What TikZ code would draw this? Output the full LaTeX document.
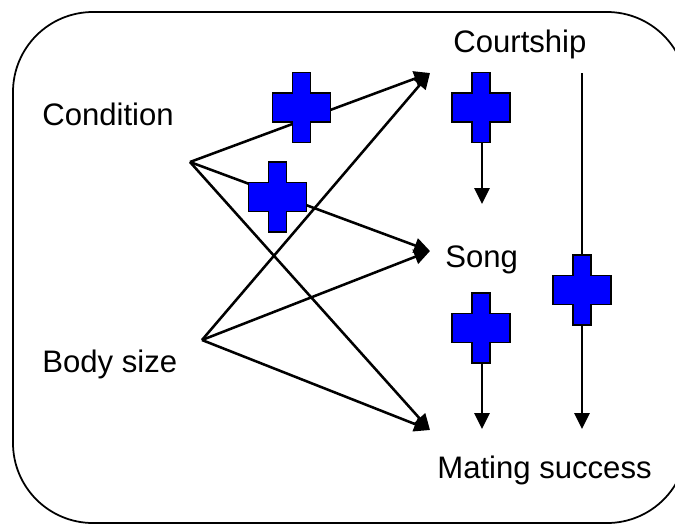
\documentclass[tikz,border=0pt]{standalone}
\usepackage{fontspec}
\setmainfont{Liberation Sans}
\usetikzlibrary{arrows.meta}
\tikzstyle{factor}=[inner sep=0pt, anchor=base west, font=\fontsize{17.7pt}{21pt}\selectfont]
\tikzstyle{line} = [draw, line width=1.45pt, color=black, -{Triangle[length=9pt, width=8.5pt]}]
\tikzstyle{frame}=[draw, line width=1pt, rounded corners=1.6cm]
\tikzset{posmark/.pic={
  \path [draw=black, line width=1.1pt, fill=blue]
    (-9,-35) -- (9,-35) -- (9,-14.5) -- (29,-14.5) -- (29,14.5) -- (9,14.5)
    -- (9,35) -- (-9,35) -- (-9,14.5) -- (-29,14.5) -- (-29,-14.5) -- (-9,-14.5) -- cycle;
}}

\begin{document}
\begin{tikzpicture}[x=0.02cm,y=-0.02cm]
  \useasboundingbox (0,0) rectangle (675,525);
  \clip (0,0) rectangle (675,525);
  \path [frame] (13,12) rectangle (687,523);

  \path (42,125) node (cond) [factor] {Condition};
  \path (42,372) node (body) [factor] {Body size};
  \path (453,52) node (court) [factor] {Courtship};
  \path (445,267) node (song) [factor] {Song};
  \path (437,478) node (mating) [factor] {Mating success};

  \coordinate (condout) at (190,162);
  \coordinate (bodyout) at (202,340);
  \coordinate (courtin) at (430,73);
  \coordinate (songin) at (430,251);
  \coordinate (matin) at (430,430);
  \coordinate (courtdown) at (482,73);
  \coordinate (songtip) at (482,204);
  \coordinate (songdown) at (482,293);
  \coordinate (matdown) at (482,429);
  \coordinate (courtright) at (582,73);
  \coordinate (matright) at (582,429);

  \path [line] (condout) -- (courtin);
  \path [line] (condout) -- (songin);
  \path [line] (condout) -- (matin);
  \path [line] (bodyout) -- (courtin);
  \path [line] (bodyout) -- (songin);
  \path [line] (bodyout) -- (matin);
  \path [line] (courtdown) -- (songtip);
  \path [line] (songdown) -- (matdown);
  \path [line] (courtright) -- (matright);

  \path (301.5,107.5) pic {posmark};
  \path (277.5,197) pic {posmark};
  \path (481,107.5) pic {posmark};
  \path (481,328) pic {posmark};
  \path (582,290) pic {posmark};
\end{tikzpicture}
\end{document}
